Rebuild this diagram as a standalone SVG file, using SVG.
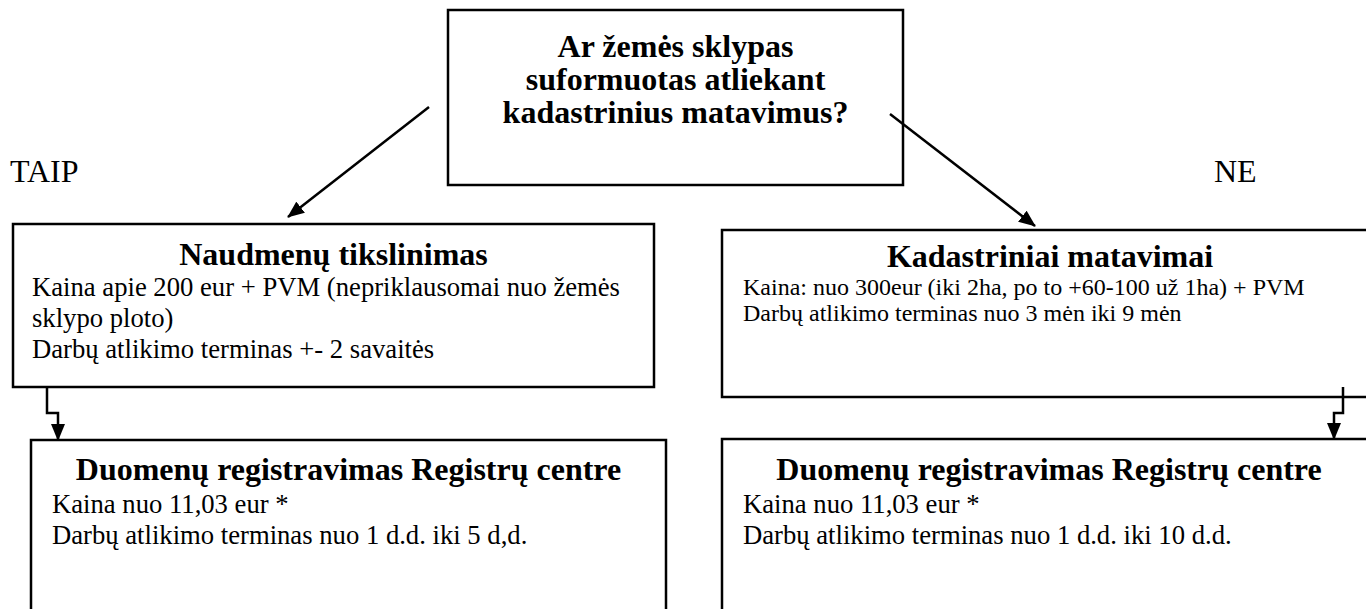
<svg xmlns="http://www.w3.org/2000/svg" width="1366" height="609" viewBox="0 0 1366 609">
<style>
  .box { fill: #ffffff; stroke: #000000; stroke-width: 2.5; }
  .conn { fill: none; stroke: #000000; stroke-width: 2.5; }
  .t { font-family: "Liberation Serif", "Times New Roman", serif; fill: #000000; }
  .h { font-size: 32px; font-weight: bold; text-anchor: middle; }
  .lbl { font-size: 32px; }
  .b1 { font-size: 26.67px; }
  .b2 { font-size: 24px; }
</style>
<defs>
  <marker id="arrow" viewBox="0 0 17 14" refX="16" refY="7" markerWidth="17" markerHeight="14" markerUnits="userSpaceOnUse" orient="auto">
    <path d="M0,0 L17,7 L0,14 z" fill="#000000"/>
  </marker>
</defs>
<rect width="1366" height="609" fill="#ffffff"/>

<g id="question">
  <rect class="box" x="448" y="10" width="455" height="175"/>
  <text class="t h" x="675.5" y="57">Ar žemės sklypas</text>
  <text class="t h" x="675.5" y="90">suformuotas atliekant</text>
  <text class="t h" x="675.5" y="123">kadastrinius matavimus?</text>
</g>

<g id="label-taip">
  <text class="t lbl" x="10" y="182">TAIP</text>
</g>
<g id="label-ne">
  <text class="t lbl" x="1214" y="182">NE</text>
</g>

<g id="naudmenu">
  <rect class="box" x="13" y="224" width="641" height="163"/>
  <text class="t h" x="333.5" y="265">Naudmenų tikslinimas</text>
  <text class="t b1" x="32" y="296">Kaina apie 200 eur + PVM (nepriklausomai nuo žemės</text>
  <text class="t b1" x="32" y="327">sklypo ploto)</text>
  <text class="t b1" x="32" y="358">Darbų atlikimo terminas +- 2 savaitės</text>
</g>

<g id="kadastriniai">
  <rect class="box" x="722" y="230" width="660" height="167"/>
  <text class="t h" x="1050" y="267">Kadastriniai matavimai</text>
  <text class="t b2" x="743" y="295">Kaina: nuo 300eur (iki 2ha, po to +60-100 už 1ha) + PVM</text>
  <text class="t b2" x="743" y="321">Darbų atlikimo terminas nuo 3 mėn iki 9 mėn</text>
</g>

<g id="registras-kaire">
  <rect class="box" x="31" y="440" width="635" height="190"/>
  <text class="t h" x="348.5" y="480">Duomenų registravimas Registrų centre</text>
  <text class="t b1" x="52" y="513">Kaina nuo 11,03 eur *</text>
  <text class="t b1" x="52" y="544">Darbų atlikimo terminas nuo 1 d.d. iki 5 d,d.</text>
</g>

<g id="registras-desine">
  <rect class="box" x="722" y="439" width="660" height="190"/>
  <text class="t h" x="1049" y="480">Duomenų registravimas Registrų centre</text>
  <text class="t b1" x="743" y="513">Kaina nuo 11,03 eur *</text>
  <text class="t b1" x="743" y="544">Darbų atlikimo terminas nuo 1 d.d. iki 10 d.d.</text>
</g>

<g id="connectors">
  <line class="conn" x1="429" y1="107" x2="288" y2="217" marker-end="url(#arrow)"/>
  <line class="conn" x1="890" y1="114" x2="1035" y2="226" marker-end="url(#arrow)"/>
  <polyline class="conn" points="47,387 47,413 58,413 58,440" marker-end="url(#arrow)"/>
  <polyline class="conn" points="1343,387 1343,413 1334,413 1334,439" marker-end="url(#arrow)"/>
</g>
</svg>
